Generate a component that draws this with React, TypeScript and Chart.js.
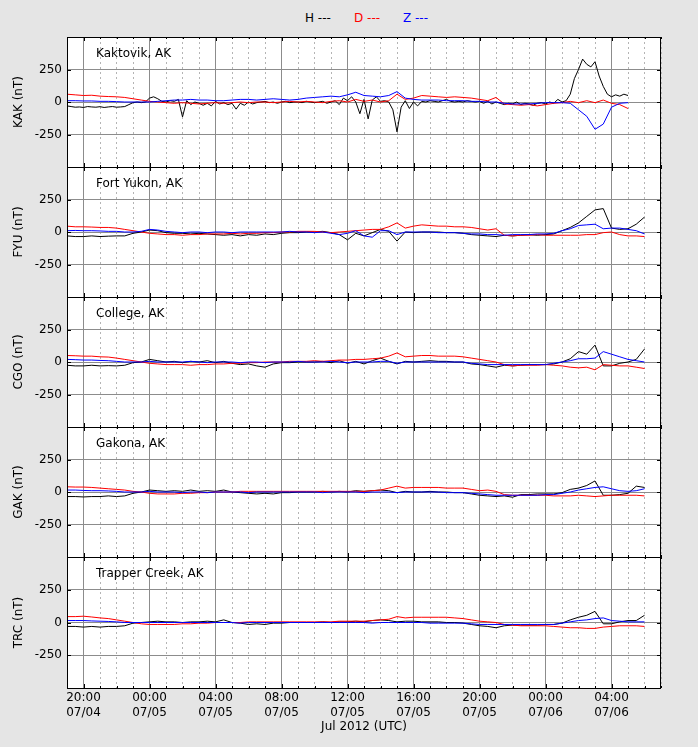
import React, { useEffect, useRef } from "react";
import { Chart, registerables } from "chart.js";
Chart.register(...registerables);

const FONT_FAMILY = "'DejaVu Sans', sans-serif";

// time in hours since 19:00 UTC 07/04/2012
const HOURS_FINE: number[] = [];
for (let i = 0; i <= 136; i++) HOURS_FINE.push(i / 4); // 0..34 step 0.25
const HOURS_KAK: number[] = [];
for (let i = 0; i <= 68; i++) HOURS_KAK.push(i / 2); // 0..34 step 0.5
const HOURS: number[] = [];
for (let i = 0; i <= 70; i++) HOURS.push(i / 2); // 0..35 step 0.5

const MAJOR_TICKS = [1, 5, 9, 13, 17, 21, 25, 29, 33];
const MINOR_TICKS: number[] = [];
for (let i = 0; i <= 36; i++) MINOR_TICKS.push(i);
const Y_TICKS = [-250, 0, 250];

const STATION_NAMES = ["Kaktovik, AK", "Fort Yukon, AK", "College, AK", "Gakona, AK", "Trapper Creek, AK"];
const STATION_CODES = ["KAK", "FYU", "CGO", "GAK", "TRC"];

// ---- KAK ----
const kakH = [
  -30, -35, -40, -38, -42, -35, -38, -40, -36, -42, -38, -35, -40, -38, -35, -20,
  -5, 0, -5, 0, 30, 40, 25, 5, 0, 10, 5, 20, -115, 10, -20, 0,
  -10, -25, -10, -30, 5, -15, -5, -20, -10, -55, -10, -25, 0, -15, -5, 0,
  5, -5, 0, -10, 0, 5, -5, 0, 0, -5, 5, 0, -5, 0, 5, -10,
  0, 10, -20, 30, 10, 40, 0, -90, 20, -130, 15, 40, 5, 10, 0, -60,
  -230, -40, 10, -50, 0, -30, 5, 0, 10, 5, 0, 10, 20, 5, 0, 5,
  0, 10, 5, 0, 5, -10, 5, -15, 0, -10, -20, -10, -15, 0, -20, -10,
  -15, -25, -10, -5, -15, 0, -10, 20, 0, 10, 60, 180, 250, 330, 290, 270,
  310, 200, 120, 60, 40, 55, 45, 60, 50,
];
const kakD = [
  60, 55, 50, 52, 45, 42, 40, 35, 25, 15,
  5, 0, -5, -10, -5, -10, -15, -10, -5, -10,
  -5, 0, -5, 0, 0, -5, 0, 5, 0, 5,
  0, -5, 5, 10, 0, 20, 5, 15, 0, 10,
  60, 20, 30, 50, 45, 40, 35, 40, 35, 30,
  20, 10, 35, -15, -20, -25, -20, -30, -20, -10,
  -5, 5, -5, 10, -5, 15, -10, -20, -50,
];
const kakZ = [
  10, 10, 8, 8, 5, 5, 3, 0, 0, 0,
  0, 5, 10, 15, 15, 20, 15, 15, 10, 10,
  15, 20, 20, 15, 20, 25, 20, 15, 20, 30,
  35, 40, 45, 40, 55, 75, 50, 45, 40, 50,
  80, 30, 20, 15, 15, 15, 10, 10, 10, 5,
  5, 0, 0, -10, -15, -15, -15, -10, -5, -5,
  -5, -10, -60, -110, -210, -170, -40, -10, -5,
];

// ---- FYU ----
const fyuH = [
  -30, -35, -35, -30, -35, -32, -30, -30, -10, 0,
  15, 10, -5, -10, -10, -15, -10, -15, -20, -25,
  -20, -30, -20, -25, -15, -20, -10, -5, -5, 0,
  0, 5, -5, -20, -60, -10, -30, -5, 20, 5,
  -70, 0, -5, 0, 0, 0, -5, -5, -10, -20,
  -25, -30, -35, -25, -30, -25, -20, -25, -20, -15,
  10, 35, 70, 120, 170, 180, 30, 20, 25, 60, 115,
];
const fyuD = [
  45, 40, 40, 38, 35, 35, 30, 20, 10, 0,
  -10, -15, -20, -20, -25, -20, -20, -15, -15, -15,
  -10, -15, -10, -10, -5, -5, 0, 0, 5, 5,
  5, 0, -5, 0, 5, 10, 15, 20, 20, 40,
  70, 30, 45, 55, 50, 45, 45, 40, 40, 35,
  25, 15, 25, -25, -30, -25, -25, -20, -25, -25,
  -25, -25, -25, -20, -20, -5, 0, -20, -30, -30, -35,
];
const fyuZ = [
  10, 12, 10, 10, 8, 5, 5, 0, 0, 5,
  20, 15, 5, 0, -5, 0, 0, -5, 0, 0,
  -5, 0, 0, 0, 0, 0, 0, 5, 0, 0,
  -5, 0, -10, -20, -10, 10, -30, -40, 10, 10,
  -20, 0, 0, 0, 0, -5, -5, -5, -10, -15,
  -15, -20, -20, -25, -20, -20, -20, -15, -15, -10,
  10, 25, 50, 55, 60, 25, 30, 30, 20, 10, -15,
];

// ---- CGO ----
const cgoH = [
  -25, -30, -30, -25, -30, -28, -30, -25, -5, 0,
  20, 10, 0, 5, -5, 5, 0, 10, -5, 5,
  -10, -20, -15, -30, -40, -15, -5, -5, 0, 0,
  0, 5, -5, 10, -10, 5, -15, 10, 30, 5,
  -15, 5, 0, 5, 10, 5, 5, 0, 0, -15,
  -20, -30, -40, -25, -30, -25, -20, -20, -20, -15,
  0, 25, 80, 60, 130, -30, -30, -10, 0, 20, 100,
];
const cgoD = [
  50, 48, 45, 45, 40, 38, 30, 20, 10, 0,
  -10, -15, -20, -20, -20, -25, -20, -20, -15, -15,
  -10, -10, -5, -5, 0, 0, 0, 5, 5, 5,
  10, 5, 10, 15, 15, 20, 20, 25, 30, 45,
  70, 40, 45, 50, 50, 45, 45, 45, 40, 30,
  20, 10, 0, -20, -30, -25, -25, -25, -20, -25,
  -30, -40, -45, -40, -60, -20, -25, -30, -30, -40, -50,
];
const cgoZ = [
  20, 18, 15, 15, 12, 10, 5, 0, 0, 0,
  5, 0, 0, 0, 0, 5, 0, -5, 0, 0,
  0, -5, 0, 0, -5, 0, 0, 0, 5, 0,
  0, 0, 5, 0, -5, 0, 0, 0, 5, 5,
  -10, 0, 0, 0, 0, 0, 0, 0, 0, -10,
  -15, -20, -20, -20, -20, -20, -20, -20, -20, -10,
  0, 10, 25, 25, 30, 80, 60, 40, 20, 10, 0,
];

// ---- GAK ----
const gakH = [
  -35, -35, -38, -35, -35, -30, -35, -30, -10, 0,
  15, 10, 5, 10, 5, 15, 5, 10, 5, 15,
  0, -5, -10, -15, -10, -15, -5, -5, 0, 0,
  0, 5, 0, 5, 0, 10, 5, 10, 15, 10,
  -5, 5, 0, 0, 5, 0, 0, -5, -5, -15,
  -25, -30, -35, -30, -40, -20, -20, -15, -15, -15,
  -5, 20, 30, 50, 85, -25, -25, -20, -10, 45, 35,
];
const gakD = [
  40, 38, 38, 35, 30, 25, 20, 15, 5, 0,
  -10, -15, -15, -15, -10, -10, -5, -5, 0, 0,
  0, 5, 5, 5, 5, 5, 5, 5, 5, 5,
  5, 5, 5, 5, 5, 5, 5, 10, 15, 30,
  45, 30, 35, 35, 35, 35, 30, 30, 30, 20,
  10, 15, 5, -20, -25, -25, -25, -25, -25, -30,
  -30, -30, -25, -30, -35, -30, -25, -25, -25, -25, -30,
];
const gakZ = [
  15, 15, 12, 10, 10, 8, 5, 0, 0, 0,
  5, 0, 0, 0, -5, 0, 0, -5, 0, 0,
  0, 0, -5, 0, 0, 0, 0, 0, 0, 0,
  0, -5, 0, 0, 0, 0, -5, 0, 0, 0,
  -5, 0, 0, 0, 0, 0, -5, -5, -5, -10,
  -15, -20, -25, -25, -25, -25, -25, -25, -20, -20,
  -10, 0, 15, 25, 35, 40, 25, 10, 5, 10, 25,
];

// ---- TRC ----
const trcH = [
  -30, -30, -35, -30, -35, -30, -30, -25, -5, 0,
  5, 10, 5, 5, 0, 5, 5, 10, 5, 20,
  0, -5, -15, -10, -15, -5, -5, 0, 0, 0,
  0, 5, 0, 5, 5, 10, 5, 15, 20, 15,
  5, 10, 10, 5, 5, 5, 0, 0, -5, -15,
  -25, -30, -40, -25, -20, -20, -20, -20, -15, -15,
  -5, 20, 40, 55, 85, -10, -10, 5, 15, 15, 55,
];
const trcD = [
  45, 45, 48, 42, 35, 30, 20, 10, 0, -10,
  -15, -15, -15, -15, -10, -10, -5, -5, 0, 0,
  0, 0, 5, 5, 5, 5, 5, 5, 5, 5,
  5, 5, 5, 10, 10, 10, 10, 15, 20, 25,
  45, 35, 40, 40, 40, 40, 40, 35, 30, 20,
  10, 5, 0, -15, -20, -25, -25, -25, -25, -30,
  -35, -40, -40, -45, -45, -35, -30, -25, -25, -25, -30,
];
const trcZ = [
  15, 15, 15, 12, 10, 8, 5, 0, 0, 0,
  0, 0, 0, 0, 0, 0, 0, 0, 0, 0,
  0, -5, 0, 0, 0, 0, 0, 0, 0, 0,
  0, 0, 0, 0, 0, 0, 0, -5, 0, 0,
  0, 0, 0, 0, -5, -5, -5, -5, -5, -10,
  -15, -15, -15, -15, -15, -15, -15, -15, -15, -15,
  -5, 5, 15, 20, 30, 35, 15, 10, 5, 5, 5,
];

type Series = { t: number[]; v: number[] };
const PANELS: { H: Series; D: Series; Z: Series }[] = [
  { H: { t: HOURS_FINE, v: kakH }, D: { t: HOURS_KAK, v: kakD }, Z: { t: HOURS_KAK, v: kakZ } },
  { H: { t: HOURS, v: fyuH }, D: { t: HOURS, v: fyuD }, Z: { t: HOURS, v: fyuZ } },
  { H: { t: HOURS, v: cgoH }, D: { t: HOURS, v: cgoD }, Z: { t: HOURS, v: cgoZ } },
  { H: { t: HOURS, v: gakH }, D: { t: HOURS, v: gakD }, Z: { t: HOURS, v: gakZ } },
  { H: { t: HOURS, v: trcH }, D: { t: HOURS, v: trcD }, Z: { t: HOURS, v: trcZ } },
];

// layout (pixels)
const W = 698;
const H_TOTAL = 747;
const PLOT_LEFT = 67;
const PLOT_RIGHT = 661;
const PANEL_EDGES = [37, 167, 297, 427, 557, 688];

const pts = (s: Series) => s.t.map((x, i) => ({ x, y: s.v[i] }));

function tickLabel(v: number): string[] {
  const abs = 19 + v;
  const hh = abs % 24;
  const day = 4 + Math.floor(abs / 24);
  return [`${String(hh).padStart(2, "0")}:00`, `07/${String(day).padStart(2, "0")}`];
}

function zeroPad(s: any) {
  s.paddingTop = 0;
  s.paddingBottom = 0;
  s.paddingLeft = 0;
  s.paddingRight = 0;
}

function makeFramePlugin(name: string) {
  return {
    id: "frame",
    beforeDraw(chart: any) {
      const { ctx, chartArea: a } = chart;
      ctx.save();
      ctx.fillStyle = "#ffffff";
      ctx.fillRect(a.left, a.top, a.right - a.left, a.bottom - a.top);
      ctx.restore();
    },
    afterDraw(chart: any) {
      const { ctx, chartArea: a } = chart;
      ctx.save();
      ctx.strokeStyle = "#000000";
      ctx.lineWidth = 1;
      // inward tick marks
      ctx.beginPath();
      const xs = chart.scales.x;
      const x2 = chart.scales.x2;
      const ys = chart.scales.y;
      for (const t of x2.ticks) {
        const p = Math.round(x2.getPixelForValue(t.value)) + 0.5;
        ctx.moveTo(p, a.bottom);
        ctx.lineTo(p, a.bottom - 2);
        ctx.moveTo(p, a.top);
        ctx.lineTo(p, a.top + 2);
      }
      for (const t of xs.ticks) {
        const p = Math.round(xs.getPixelForValue(t.value)) + 0.5;
        ctx.moveTo(p, a.bottom);
        ctx.lineTo(p, a.bottom - 4);
        ctx.moveTo(p, a.top);
        ctx.lineTo(p, a.top + 4);
      }
      for (const t of ys.ticks) {
        const p = Math.round(ys.getPixelForValue(t.value)) + 0.5;
        ctx.moveTo(a.left, p);
        ctx.lineTo(a.left + 4, p);
        ctx.moveTo(a.right, p);
        ctx.lineTo(a.right - 4, p);
      }
      ctx.stroke();
      ctx.strokeRect(a.left + 0.5, a.top + 0.5, a.right - a.left - 1, a.bottom - a.top);
      ctx.fillStyle = "#000000";
      ctx.font = `12px ${FONT_FAMILY}`;
      ctx.textBaseline = "middle";
      ctx.textAlign = "left";
      ctx.fillText(name, a.left + 29, a.top + 17);
      ctx.restore();
    },
  };
}

function Panel({ idx }: { idx: number }) {
  const ref = useRef<HTMLCanvasElement>(null);
  const isLast = idx === PANELS.length - 1;
  const top = PANEL_EDGES[idx];
  const bottom = PANEL_EDGES[idx + 1];
  const canvasTop = top - 2;
  const canvasH = isLast ? H_TOTAL - canvasTop : bottom - top + 4;

  useEffect(() => {
    const p = PANELS[idx];
    const font = { family: FONT_FAMILY, size: 12 };
    const chart = new Chart(ref.current as HTMLCanvasElement, {
      type: "line",
      data: {
        datasets: [
          { label: "Z", data: pts(p.Z), borderColor: "#0000ff", borderWidth: 1, pointRadius: 0, tension: 0, fill: false },
          { label: "D", data: pts(p.D), borderColor: "#ff0000", borderWidth: 1, pointRadius: 0, tension: 0, fill: false },
          { label: "H", data: pts(p.H), borderColor: "#000000", borderWidth: 1, pointRadius: 0, tension: 0, fill: false },
        ],
      },
      options: {
        animation: false,
        responsive: false,
        maintainAspectRatio: false,
        events: [],
        layout: { padding: { top: 2, bottom: isLast ? 0 : 2, left: 0, right: W - PLOT_RIGHT } },
        plugins: { legend: { display: false }, tooltip: { enabled: false } },
        scales: {
          x2: {
            type: "linear",
            position: "bottom",
            min: 0,
            max: 36,
            afterBuildTicks: (s: any) => {
              s.ticks = MINOR_TICKS.map((value) => ({ value }));
            },
            ticks: { display: false },
            grid: {
              drawTicks: false,
              lineWidth: 1,
              color: (ctx: any) => ((ctx.tick && (ctx.tick.value - 1) % 4 === 0) ? "rgba(0,0,0,0)" : "#b4b4b4"),
            },
            border: { display: false, dash: [2, 3] },
            afterFit: (s: any) => {
              s.height = 0;
              zeroPad(s);
            },
          },
          x: {
            type: "linear",
            position: "bottom",
            min: 0,
            max: 36,
            afterBuildTicks: (s: any) => {
              s.ticks = MAJOR_TICKS.map((value) => ({ value }));
            },
            ticks: {
              display: isLast,
              font,
              color: "#000000",
              padding: 3,
              maxRotation: 0,
              autoSkip: false,
              callback: (v: any) => tickLabel(Number(v)),
            },
            grid: { drawTicks: false, color: "#8c8c8c", lineWidth: 1 },
            border: { display: false },
            title: {
              display: isLast,
              text: "Jul 2012 (UTC)",
              font,
              color: "#000000",
              padding: { top: 0, bottom: 13 },
            },
            afterFit: (s: any) => {
              s.height = isLast ? H_TOTAL - PANEL_EDGES[5] : 0;
              zeroPad(s);
            },
          },
          y: {
            type: "linear",
            position: "left",
            min: -500,
            max: 500,
            afterBuildTicks: (s: any) => {
              s.ticks = Y_TICKS.map((value) => ({ value }));
            },
            ticks: { font, color: "#000000", padding: 5, callback: (v: any) => String(v) },
            grid: { drawTicks: false, color: "#8c8c8c", lineWidth: 1 },
            border: { display: false },
            title: {
              display: true,
              text: `${STATION_CODES[idx]} (nT)`,
              font,
              color: "#000000",
              padding: { top: 12, bottom: 0 },
            },
            afterFit: (s: any) => {
              s.width = PLOT_LEFT;
              zeroPad(s);
            },
          },
        },
      } as any,
      plugins: [makeFramePlugin(STATION_NAMES[idx])],
    });
    return () => chart.destroy();
  }, [idx]);

  return (
    <canvas
      ref={ref}
      width={W}
      height={canvasH}
      style={{ position: "absolute", left: 0, top: canvasTop, width: W, height: canvasH, display: "block" }}
    />
  );
}

const LEGEND = [
  { text: "H ---", color: "#000000", left: 305 },
  { text: "D ---", color: "#ff0000", left: 354 },
  { text: "Z ---", color: "#0000ff", left: 403 },
];

export default function App() {
  useEffect(() => {
    document.body.style.margin = "0";
  }, []);
  return (
    <div
      style={{
        position: "absolute",
        left: 0,
        top: 0,
        width: W,
        height: H_TOTAL,
        background: "#e5e5e5",
        overflow: "hidden",
      }}
    >
      {LEGEND.map((l) => (
        <span
          key={l.text}
          style={{
            position: "absolute",
            left: l.left,
            top: 11,
            lineHeight: "14px",
            fontSize: 12,
            fontFamily: FONT_FAMILY,
            color: l.color,
            whiteSpace: "pre",
          }}
        >
          {l.text}
        </span>
      ))}
      {PANELS.map((_, i) => (
        <Panel key={i} idx={i} />
      ))}
    </div>
  );
}
